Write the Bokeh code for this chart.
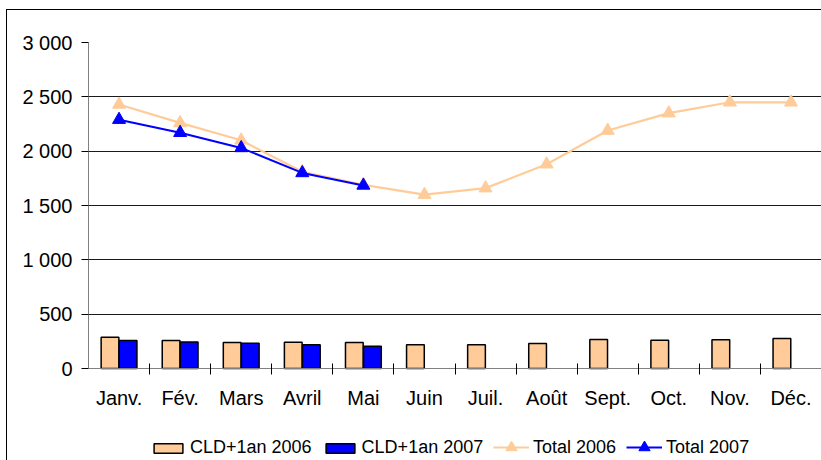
from bokeh.plotting import figure
from bokeh.models import (ColumnDataSource, FixedTicker, Legend, LegendItem, Range1d)
from bokeh.transform import dodge
from bokeh.embed import file_html
from bokeh.resources import INLINE

months = ["Janv.", "Fév.", "Mars", "Avril", "Mai", "Juin", "Juil.", "Août",
          "Sept.", "Oct.", "Nov.", "Déc."]
cld_2006 = [288, 258, 239, 242, 239, 218, 218, 230, 267, 261, 264, 276]
cld_2007 = [258, 245, 233, 218, 205]
total_2006 = [2430, 2260, 2100, 1810, 1690, 1600, 1660, 1880, 2190, 2350, 2450, 2450]
total_2007 = [2290, 2170, 2030, 1800, 1685]
y_ticks = [0, 500, 1000, 1500, 2000, 2500, 3000]
y_tick_labels = ["0", "500", "1 000", "1 500", "2 000", "2 500", "3 000"]

FONT = "Liberation Sans"
PEACH = "#FFCC99"
BLUE = "#0000FF"

centers = [i + 0.5 for i in range(len(months))]
s06 = ColumnDataSource(dict(x=centers, c=cld_2006, t=total_2006))
s07 = ColumnDataSource(dict(x=centers[:len(cld_2007)], c=cld_2007, t=total_2007))

p = figure(width=814, height=450, output_backend="svg", toolbar_location=None,
           x_range=Range1d(0, len(months)), y_range=Range1d(-846, 3000),
           min_border_left=81, min_border_right=0, min_border_top=32, min_border_bottom=0)
p.outline_line_color = None
p.background_fill_color = "white"
p.border_fill_color = "white"
p.styles = {"margin-left": "7px", "margin-top": "10px", "outline": "1px solid black"}

b06 = p.vbar(x=dodge("x", -0.148), top="c", width=0.29, source=s06, fill_color=PEACH,
             line_color="black", line_width=1.5)
b07 = p.vbar(x=dodge("x", 0.148), top="c", width=0.29, source=s07, fill_color=BLUE,
             line_color="black", line_width=1.5)

l06 = p.line(x="x", y="t", source=s06, line_color=PEACH, line_width=2.2)
m06 = p.scatter(x="x", y="t", source=s06, marker="triangle", size=13,
                fill_color=PEACH, line_color=PEACH)
l07 = p.line(x="x", y="t", source=s07, line_color=BLUE, line_width=2)
m07 = p.scatter(x="x", y="t", source=s07, marker="triangle", size=13,
                fill_color=BLUE, line_color=BLUE)

# x axis at y=0: labels at centers, tick marks at category boundaries
xa = p.xaxis[0]
xa.fixed_location = 0
xa.ticker = FixedTicker(ticks=centers, minor_ticks=list(range(1, len(months) + 1)))
xa.major_label_overrides = {c: m for c, m in zip(centers, months)}
xa.major_tick_line_color = None
xa.major_tick_in = 0
xa.major_tick_out = 0
xa.minor_tick_line_color = "black"
xa.minor_tick_in = 5
xa.minor_tick_out = 6
xa.axis_line_color = "#808080"
xa.major_label_text_font = FONT
xa.major_label_text_font_size = "20px"
xa.major_label_text_color = "black"
xa.major_label_standoff = 12

ya = p.yaxis[0]
ya.bounds = (0, 3000)
ya.ticker = FixedTicker(ticks=y_ticks)
ya.major_label_overrides = {t: l for t, l in zip(y_ticks, y_tick_labels)}
ya.major_tick_in = 0
ya.major_tick_out = 7
ya.major_tick_line_color = "black"
ya.minor_tick_line_color = None
ya.axis_line_color = "#808080"
ya.major_label_text_font = FONT
ya.major_label_text_font_size = "20px"
ya.major_label_text_color = "black"
ya.major_label_standoff = 9

p.xgrid.grid_line_color = None
p.ygrid.ticker = FixedTicker(ticks=y_ticks[1:])
p.ygrid.grid_line_color = "#1a1a1a"
p.ygrid.grid_line_width = 1


def style_legend(lg, gh):
    lg.label_text_font = FONT
    lg.label_text_font_size = "18px"
    lg.label_text_color = "black"
    lg.glyph_width = 36
    lg.glyph_height = gh
    lg.label_standoff = 4
    lg.spacing = 10
    lg.padding = 0
    lg.margin = 0
    lg.border_line_color = None
    lg.background_fill_alpha = 0


legend_bars = Legend(items=[
    LegendItem(label="CLD+1an 2006", renderers=[b06]),
    LegendItem(label="CLD+1an 2007", renderers=[b07]),
], orientation="horizontal", location=(62, 2))
style_legend(legend_bars, 12)

legend_lines = Legend(items=[
    LegendItem(label="Total 2006", renderers=[l06, m06]),
    LegendItem(label="Total 2007", renderers=[l07, m07]),
], orientation="horizontal", location=(405, -1))
style_legend(legend_lines, 28)

p.add_layout(legend_bars)
p.add_layout(legend_lines)

open("out.html", "w").write(file_html(p, INLINE))
